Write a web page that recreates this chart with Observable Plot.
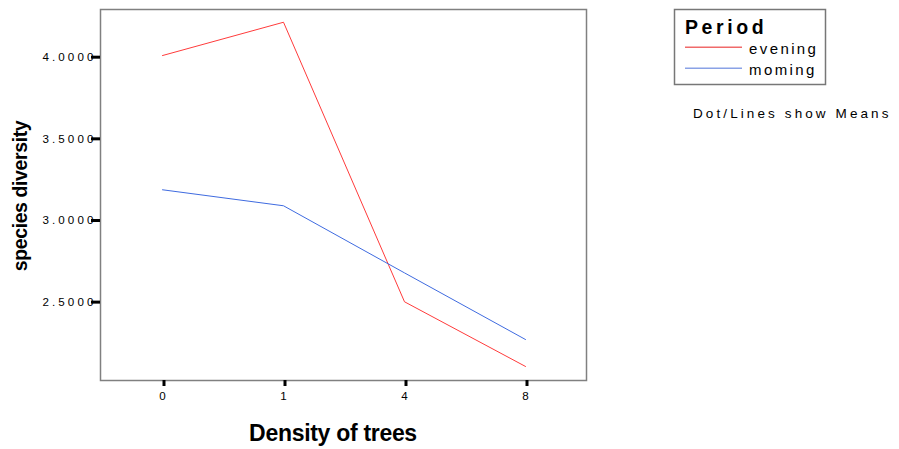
<!DOCTYPE html>
<html>
<head>
<meta charset="utf-8">
<script src="https://cdn.jsdelivr.net/npm/d3@7"></script>
<script src="https://cdn.jsdelivr.net/npm/@observablehq/plot@0.6"></script>
<style>
  body { margin: 0; background: #fff; }
  #chart { position: relative; width: 899px; height: 449px; }
  svg { font-family: "Liberation Sans", Arial, sans-serif; }
  svg g[aria-label="y-axis tick label"], svg g[aria-label="x-axis tick label"] {
    font-size: 11.6px; letter-spacing: 3.1px; fill: #000;
  }
</style>
</head>
<body>
<div id="chart"></div>
<script>
const densities = ["0", "1", "4", "8"];
const periods = ["evening", "morning"];
const legendLabels = ["evening", "moming"];
const eveningValues = [4.01, 4.214, 2.502, 2.106];
const morningValues = [3.188, 3.090, 2.679, 2.271];
const yTicks = [2.5, 3.0, 3.5, 4.0];
const colors = ["#ff3b3b", "#3f6be0"];
const legendColors = ["#f06a6a", "#8aa2e6"];

const data = [];
densities.forEach((d, i) => {
  data.push({density: d, period: periods[0], value: eveningValues[i]});
  data.push({density: d, period: periods[1], value: morningValues[i]});
});

const plot = Plot.plot({
  width: 899,
  height: 449,
  marginLeft: 100,
  marginTop: 9,
  marginRight: 313,
  marginBottom: 69,
  style: {fontFamily: "Liberation Sans, Arial, sans-serif", background: "#fff"},
  x: {type: "point", domain: densities, padding: 0.5},
  y: {domain: [2.02, 4.292]},
  color: {domain: periods, range: colors},
  marks: [
    Plot.frame({stroke: "#808080", strokeWidth: 1.5}),
    Plot.line(data, {x: "density", y: "value", z: "period", stroke: "period", strokeWidth: 1}),
    Plot.axisY({ticks: yTicks, tickFormat: d3.format(".4f"), tickSize: 9, tickPadding: -5,
      strokeWidth: 3, stroke: "#000", label: null}),
    Plot.axisX({tickSize: 6, tickPadding: 5, dx: 1.5, strokeWidth: 3, stroke: "#000", label: null})
  ]
});
document.getElementById("chart").appendChild(plot);

const svg = d3.select(plot);

// axis titles
svg.append("text")
  .attr("transform", "translate(27,196) rotate(-90)")
  .attr("text-anchor", "middle")
  .style("font-size", "19.5px").style("font-weight", "bold").style("letter-spacing", "-0.4px")
  .attr("fill", "#000")
  .text("species diversity");
svg.append("text")
  .attr("x", 333).attr("y", 441)
  .attr("text-anchor", "middle")
  .style("font-size", "23px").style("font-weight", "bold").style("letter-spacing", "-0.3px")
  .attr("fill", "#000")
  .text("Density of trees");

// legend
const lg = svg.append("g").attr("text-anchor", "start");
lg.append("rect").attr("x", 674.5).attr("y", 9.5).attr("width", 151).attr("height", 75)
  .attr("fill", "#fff").attr("stroke", "#777").attr("stroke-width", 1.5);
lg.append("text").attr("x", 685).attr("y", 34).attr("text-anchor", "start")
  .style("font-size", "19.5px").style("font-weight", "bold").style("letter-spacing", "3.6px")
  .attr("fill", "#000").text("Period");
periods.forEach((p, i) => {
  const y = 47.3 + i * 21;
  lg.append("line").attr("x1", 685).attr("x2", 742).attr("y1", y).attr("y2", y)
    .attr("stroke", legendColors[i]).attr("stroke-width", 1.6);
  lg.append("text").attr("x", 749).attr("y", y + 6.2).attr("text-anchor", "start")
    .style("font-size", "15px").style("letter-spacing", "2.4px").attr("fill", "#000").text(legendLabels[i]);
});
svg.append("text").attr("x", 693).attr("y", 117.7).attr("text-anchor", "start")
  .style("font-size", "13.5px").style("letter-spacing", "3.1px").attr("fill", "#000").text("Dot/Lines show Means");
</script>
</body>
</html>
